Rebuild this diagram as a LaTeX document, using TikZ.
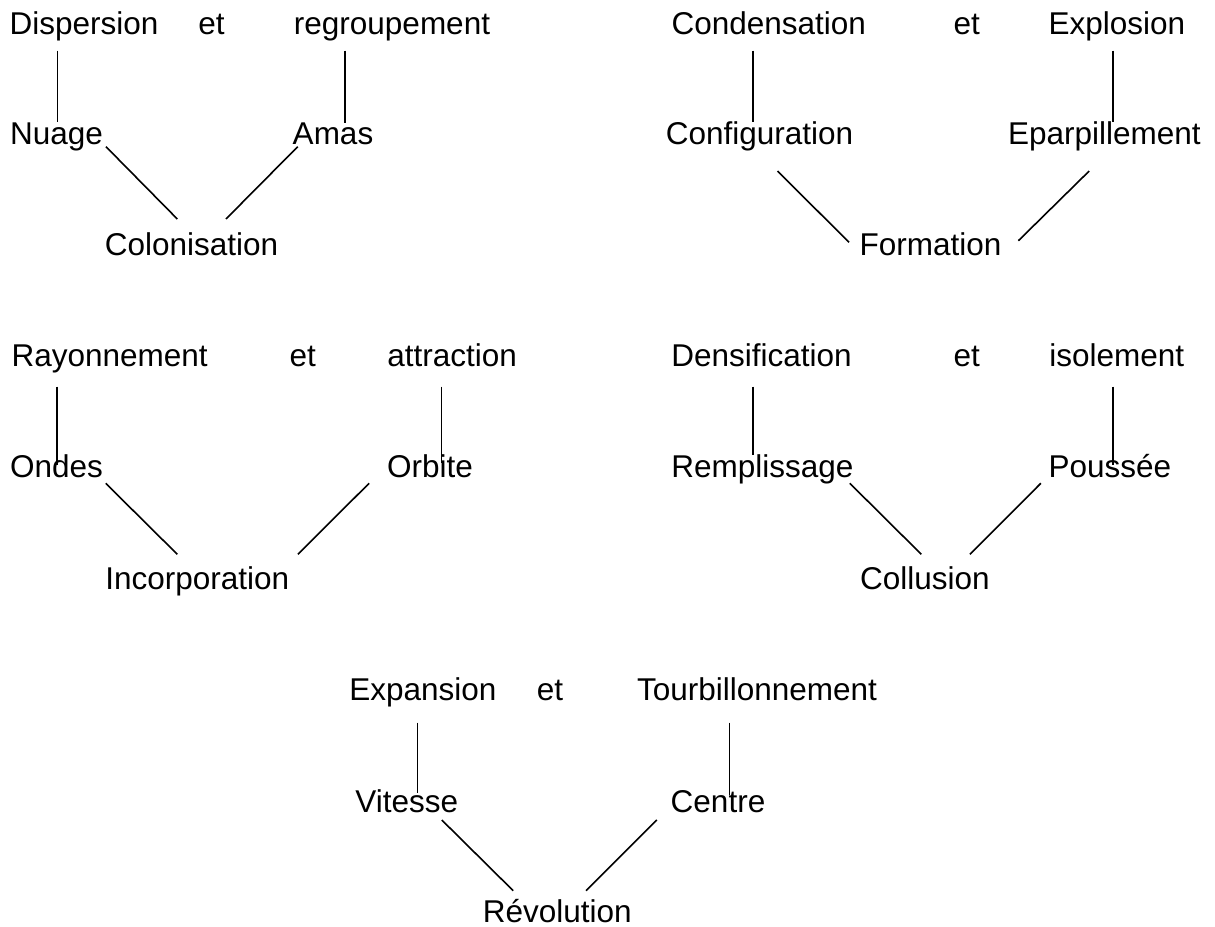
\documentclass[tikz,border=0pt]{standalone}
\usepackage{fontspec}
\setmainfont{Liberation Sans}
\begin{document}
\begin{tikzpicture}[x=1pt,y=-1pt,
  word/.style={anchor=base,inner sep=0pt,font=\fontsize{31.5}{38}\selectfont},
  link/.style={line width=1.6pt,black}]
\useasboundingbox[fill=white] (0,0) rectangle (1215,926);

% --- Dispersion et regroupement ---
\node[word] (disp) at (84,34) {Dispersion};
\node[word] (et1)  at (211.5,34) {et};
\node[word] (regr) at (392,34) {regroupement};
\node[word] (nuag) at (56.5,144) {Nuage};
\node[word] (amas) at (333,144) {Amas};
\node[word] (colo) at (191.5,255) {Colonisation};
\coordinate (a1) at (57.3,50.7);  \coordinate (a2) at (57.3,121.7);
\coordinate (a3) at (345,50.7);   \coordinate (a4) at (345,122.7);
\coordinate (a5) at (106,146.7);  \coordinate (a6) at (177.3,219);
\coordinate (a7) at (297.7,146.7);\coordinate (a8) at (226,219);
\draw[link] (a1) -- (a2);
\draw[link] (a3) -- (a4);
\draw[link] (a5) -- (a6);
\draw[link] (a7) -- (a8);

% --- Condensation et Explosion ---
\node[word] (cond) at (768.7,34) {Condensation};
\node[word] (et2)  at (966.8,34) {et};
\node[word] (expl) at (1116.8,34) {Explosion};
\node[word] (conf) at (759.5,144) {Configuration};
\node[word] (epar) at (1104.4,144) {Eparpillement};
\node[word] (form) at (930.6,255) {Formation};
\coordinate (b1) at (752.9,50.7); \coordinate (b2) at (752.9,121.7);
\coordinate (b3) at (1113,50.7);  \coordinate (b4) at (1113,121.7);
\coordinate (b5) at (777.5,171);  \coordinate (b6) at (849,242.3);
\coordinate (b7) at (1089.2,171); \coordinate (b8) at (1018.4,240.7);
\draw[link] (b1) -- (b2);
\draw[link] (b3) -- (b4);
\draw[link] (b5) -- (b6);
\draw[link] (b7) -- (b8);

% --- Rayonnement et attraction ---
\node[word] (rayo) at (109.7,366) {Rayonnement};
\node[word] (et3)  at (302.8,366) {et};
\node[word] (attr) at (452.2,366) {attraction};
\node[word] (onde) at (56.5,477) {Ondes};
\node[word] (orbi) at (430,477) {Orbite};
\node[word] (inco) at (197.2,589) {Incorporation};
\coordinate (c1) at (56.8,386.7);  \coordinate (c2) at (56.8,465);
\coordinate (c3) at (441.5,386.7); \coordinate (c4) at (441.5,463.3);
\coordinate (c5) at (105.7,483.3); \coordinate (c6) at (177.3,554.3);
\coordinate (c7) at (369.1,483.3); \coordinate (c8) at (297.9,554.3);
\draw[link] (c1) -- (c2);
\draw[link] (c3) -- (c4);
\draw[link] (c5) -- (c6);
\draw[link] (c7) -- (c8);

% --- Densification et isolement ---
\node[word] (dens) at (761.5,366) {Densification};
\node[word] (et4)  at (966.8,366) {et};
\node[word] (isol) at (1116.8,366) {isolement};
\node[word] (remp) at (762.5,477) {Remplissage};
\node[word] (pous) at (1109.8,477) {Poussée};
\node[word] (coll) at (924.8,589) {Collusion};
\coordinate (d1) at (752.9,386.7); \coordinate (d2) at (752.9,455);
\coordinate (d3) at (1113,386.7);  \coordinate (d4) at (1113,465);
\coordinate (d5) at (849.8,483.3); \coordinate (d6) at (921.3,554.3);
\coordinate (d7) at (1040.8,483.3);\coordinate (d8) at (970,554.3);
\draw[link] (d1) -- (d2);
\draw[link] (d3) -- (d4);
\draw[link] (d5) -- (d6);
\draw[link] (d7) -- (d8);

% --- Expansion et Tourbillonnement ---
\node[word] (expa) at (422.8,700) {Expansion};
\node[word] (et5)  at (550,700) {et};
\node[word] (tour) at (757,700) {Tourbillonnement};
\node[word] (vite) at (406.8,812.7) {Vitesse};
\node[word] (cent) at (718,812.7) {Centre};
\node[word] (revo) at (557.2,922) {Révolution};
\coordinate (e1) at (417.5,722.7); \coordinate (e2) at (417.5,793.3);
\coordinate (e3) at (729.3,722.7); \coordinate (e4) at (729.3,795);
\coordinate (e5) at (441.8,820);   \coordinate (e6) at (513.2,890.7);
\coordinate (e7) at (656.8,820);   \coordinate (e8) at (586,890.7);
\draw[link] (e1) -- (e2);
\draw[link] (e3) -- (e4);
\draw[link] (e5) -- (e6);
\draw[link] (e7) -- (e8);
\end{tikzpicture}
\end{document}
